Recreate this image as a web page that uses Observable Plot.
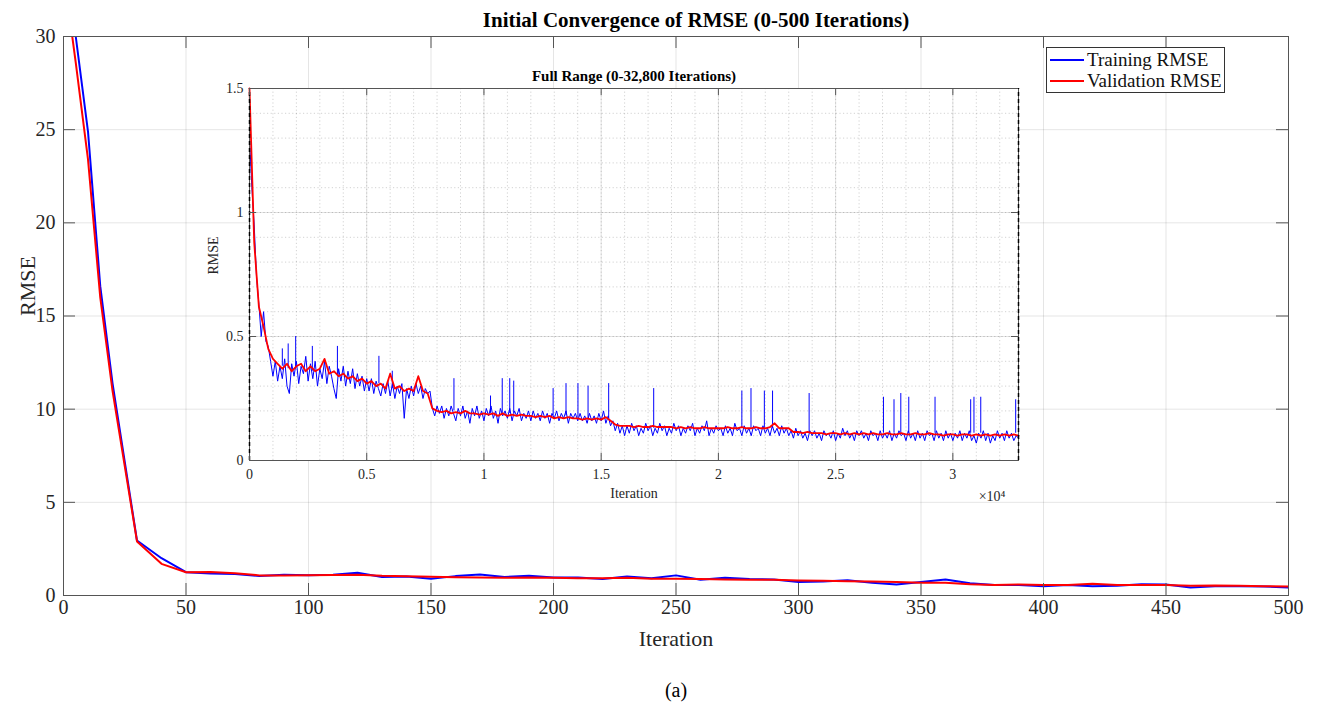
<!DOCTYPE html>
<html><head><meta charset="utf-8">
<script src="https://cdn.jsdelivr.net/npm/d3@7"></script>
<script src="https://cdn.jsdelivr.net/npm/@observablehq/plot@0.6"></script>
<style>
body{margin:0;background:#fff;}
#wrap{position:relative;width:1324px;height:707px;font-family:"Liberation Serif","Times New Roman",serif;}
#inset{position:absolute;left:200px;top:60px;}
#legend{position:absolute;left:1046px;top:47px;width:177px;height:44px;border:1px solid #333;background:#fff;font-size:19px;color:#111;}
#legend .row{position:absolute;left:0;height:22px;width:100%;}
#legend .sw{position:absolute;left:3px;top:10px;width:34px;height:2px;}
#legend .lab{position:absolute;left:40px;top:0;line-height:22px;white-space:nowrap;}
</style></head>
<body><div id="wrap"></div>
<script>
// ---------- Main chart data (0-500 iterations) ----------
const mainIter = [0,5,10,15,20,30,40,50,60,70,80,90,100,110,120,130,140,150,160,170,180,190,200,210,220,230,240,250,260,270,280,290,300,310,320,330,340,350,360,370,380,390,400,410,420,430,440,450,460,470,480,490,500];
const trainMain = [35.5,30.0,24.9,16.6,11.4,2.95,2.0,1.25,1.18,1.16,1.04,1.11,1.09,1.11,1.22,0.99,1.02,0.90,1.04,1.13,0.99,1.06,0.97,0.97,0.88,1.02,0.93,1.08,0.84,0.95,0.88,0.86,0.73,0.75,0.82,0.68,0.59,0.73,0.86,0.66,0.57,0.57,0.50,0.56,0.50,0.52,0.61,0.59,0.43,0.50,0.50,0.48,0.43];
const valMain = [33.5,28.6,23.4,16.0,11.0,2.9,1.7,1.25,1.26,1.20,1.08,1.08,1.09,1.10,1.12,1.06,1.03,1.00,0.98,0.97,0.95,0.97,0.95,0.93,0.93,0.95,0.90,0.90,0.88,0.86,0.84,0.84,0.81,0.79,0.77,0.75,0.72,0.68,0.68,0.61,0.57,0.59,0.57,0.56,0.63,0.57,0.56,0.56,0.52,0.54,0.52,0.50,0.48];
const mainXTicks = [0,50,100,150,200,250,300,350,400,450,500];
const mainYTicks = [0,5,10,15,20,25,30];

// ---------- Inset data (0-32,800 iterations) ----------
const trainStep = 100; // training RMSE sampled every 100 iterations
const trainFull = [
1.30,1.10,0.95,0.74,0.63,0.50,0.60,0.48,0.46,0.40,0.34,0.40,0.32,0.38,0.33,0.41,0.30,0.27,0.39,0.34,
0.40,0.31,0.38,0.35,0.42,0.32,0.39,0.33,0.40,0.30,0.37,0.33,0.40,0.31,0.38,0.34,0.29,0.25,0.37,0.32,
0.38,0.30,0.36,0.31,0.37,0.29,0.35,0.30,0.34,0.28,0.33,0.28,0.33,0.27,0.32,0.29,0.26,0.31,0.27,0.32,
0.26,0.31,0.25,0.30,0.27,0.31,0.17,0.29,0.25,0.30,0.26,0.31,0.27,0.30,0.25,0.29,0.27,0.28,0.21,0.18,
0.22,0.19,0.22,0.17,0.21,0.18,0.22,0.19,0.16,0.21,0.18,0.22,0.17,0.20,0.15,0.21,0.18,0.22,0.17,0.20,
0.16,0.21,0.18,0.22,0.17,0.20,0.15,0.21,0.18,0.20,0.17,0.21,0.16,0.20,0.18,0.21,0.16,0.19,0.17,0.20,
0.16,0.20,0.17,0.19,0.16,0.20,0.17,0.19,0.15,0.19,0.17,0.20,0.16,0.19,0.17,0.20,0.15,0.19,0.17,0.19,
0.16,0.19,0.16,0.18,0.15,0.19,0.16,0.18,0.15,0.19,0.16,0.20,0.15,0.18,0.14,0.16,0.12,0.15,0.11,0.14,
0.10,0.14,0.11,0.15,0.12,0.14,0.10,0.13,0.11,0.15,0.12,0.14,0.10,0.13,0.11,0.15,0.12,0.14,0.10,0.13,
0.11,0.15,0.12,0.14,0.10,0.13,0.11,0.14,0.12,0.15,0.10,0.13,0.11,0.14,0.12,0.16,0.10,0.13,0.11,0.14,
0.12,0.13,0.10,0.14,0.11,0.13,0.10,0.15,0.12,0.13,0.10,0.14,0.11,0.13,0.10,0.14,0.12,0.13,0.10,0.14,
0.11,0.13,0.10,0.14,0.11,0.13,0.10,0.14,0.11,0.13,0.10,0.12,0.09,0.13,0.10,0.12,0.09,0.11,0.08,0.12,
0.10,0.12,0.09,0.11,0.08,0.12,0.10,0.11,0.09,0.12,0.08,0.11,0.09,0.13,0.10,0.12,0.09,0.11,0.08,0.12,
0.10,0.12,0.09,0.11,0.08,0.12,0.10,0.11,0.08,0.12,0.09,0.11,0.09,0.12,0.08,0.11,0.09,0.12,0.10,0.11,
0.08,0.12,0.09,0.11,0.08,0.12,0.09,0.11,0.08,0.12,0.10,0.11,0.08,0.12,0.09,0.11,0.08,0.12,0.09,0.11,
0.08,0.11,0.09,0.12,0.08,0.11,0.09,0.12,0.08,0.10,0.07,0.11,0.09,0.12,0.08,0.11,0.07,0.10,0.08,0.12,
0.09,0.11,0.08,0.12,0.09,0.11,0.08,0.10,0.09];
const valStep = 200; // validation RMSE sampled every 200 iterations
const valFull = [
1.50,0.88,0.62,0.54,0.45,0.41,0.39,0.37,0.39,0.36,
0.38,0.39,0.36,0.38,0.36,0.37,0.41,0.35,0.36,0.34,
0.35,0.33,0.34,0.32,0.33,0.31,0.32,0.30,0.31,0.29,
0.35,0.29,0.30,0.28,0.29,0.28,0.34,0.28,0.27,0.21,
0.20,0.195,0.20,0.19,0.195,0.19,0.20,0.19,0.19,0.185,
0.19,0.185,0.19,0.18,0.19,0.18,0.185,0.18,0.185,0.18,
0.18,0.175,0.18,0.175,0.18,0.17,0.175,0.17,0.175,0.17,
0.17,0.165,0.17,0.165,0.17,0.165,0.175,0.16,0.145,0.14,
0.14,0.14,0.135,0.14,0.135,0.135,0.14,0.135,0.135,0.135,
0.135,0.13,0.135,0.13,0.135,0.13,0.13,0.135,0.13,0.13,
0.13,0.13,0.135,0.13,0.13,0.135,0.13,0.13,0.135,0.13,
0.13,0.135,0.15,0.13,0.13,0.13,0.115,0.115,0.11,0.115,
0.11,0.11,0.11,0.105,0.11,0.11,0.105,0.11,0.105,0.11,
0.105,0.11,0.105,0.11,0.105,0.105,0.11,0.105,0.105,0.11,
0.105,0.105,0.11,0.105,0.105,0.11,0.105,0.105,0.10,0.105,
0.105,0.10,0.105,0.105,0.10,0.105,0.10,0.105,0.10,0.105,
0.10,0.105,0.10,0.105,0.10];
const spikeIter = [1400,1650,1970,2680,3750,5520,6090,8720,10280,10780,11100,11270,12950,13500,14010,14440,15320,17240,21000,21390,21960,22310,23870,27040,27490,27780,28120,29240,30760,30900,31190,32680];
const spikePeak = [0.45,0.47,0.50,0.46,0.46,0.42,0.36,0.33,0.26,0.33,0.33,0.32,0.29,0.31,0.31,0.30,0.31,0.29,0.28,0.29,0.28,0.28,0.27,0.255,0.245,0.27,0.255,0.255,0.245,0.255,0.255,0.245];
const spikeBase = [0.38,0.37,0.37,0.36,0.34,0.31,0.29,0.20,0.19,0.19,0.19,0.19,0.18,0.18,0.17,0.17,0.17,0.13,0.13,0.13,0.13,0.13,0.11,0.11,0.11,0.11,0.11,0.11,0.11,0.11,0.11,0.11];
const insetXMax = 32800;
const insetXTicks = [0,5000,10000,15000,20000,25000,30000];
const insetYTicks = [0,0.5,1,1.5];

const mainTitle = "Initial Convergence of RMSE (0-500 Iterations)";
const insetTitle = "Full Range (0-32,800 Iterations)";
const seriesNames = ["Training RMSE","Validation RMSE"];
const BLUE = "#0000ff", RED = "#ff0000";
const FONT = "'Liberation Serif','Times New Roman',serif";

// ---------- Main plot ----------
const W=1324,H=707,mL=63,mR=36,mT=36,mB=112;
const xLenM = 500/(W-mL-mR)*12, yLenM = 30/(H-mT-mB)*12;
const trainMainData = mainIter.map((it,i)=>({it, v: trainMain[i]}));
const valMainData = mainIter.map((it,i)=>({it, v: valMain[i]}));
const axisC = "#555";

const main = Plot.plot({
  width:W, height:H, marginLeft:mL, marginRight:mR, marginTop:mT, marginBottom:mB,
  style:{fontFamily:FONT, fontSize:"20px", color:"#262626", background:"white"},
  x:{domain:[0,500], ticks:mainXTicks, tickSize:0, tickPadding:4, label:null},
  y:{domain:[0,30], ticks:mainYTicks, tickSize:0, tickPadding:8, label:null},
  marks:[
    Plot.gridX(mainXTicks,{stroke:"#000", strokeOpacity:0.1}),
    Plot.gridY(mainYTicks,{stroke:"#000", strokeOpacity:0.1}),
    Plot.line(trainMainData,{x:"it", y:"v", stroke:BLUE, strokeWidth:2, clip:true}),
    Plot.line(valMainData,{x:"it", y:"v", stroke:RED, strokeWidth:2, clip:true}),
    Plot.frame({stroke:axisC}),
    Plot.ruleX(mainXTicks,{x:d=>d, y1:0, y2:yLenM, stroke:axisC}),
    Plot.ruleX(mainXTicks,{x:d=>d, y1:30, y2:30-yLenM, stroke:axisC}),
    Plot.ruleY(mainYTicks,{y:d=>d, x1:0, x2:xLenM, stroke:axisC}),
    Plot.ruleY(mainYTicks,{y:d=>d, x1:500, x2:500-xLenM, stroke:axisC}),
    Plot.text([mainTitle],{frameAnchor:"top", lineAnchor:"middle", dy:-16, dx:20, fontSize:21, fontWeight:"bold", fill:"#000"}),
    Plot.text(["Iteration"],{frameAnchor:"bottom", lineAnchor:"middle", dy:43, fontSize:22, fill:"#262626"}),
    Plot.text(["RMSE"],{frameAnchor:"left", lineAnchor:"middle", dx:-36, rotate:-90, fontSize:22, fill:"#262626"}),
    Plot.text(["(a)"],{frameAnchor:"bottom", lineAnchor:"middle", dy:95, fontSize:20, fill:"#000"})
  ]
});

// ---------- Inset plot ----------
const iW=840,iH=450,iL=49,iR=22,iT=28,iB=50;
const xLenI = insetXMax/(iW-iL-iR)*7, yLenI = 1.5/(iH-iT-iB)*7;
const trainFullData = trainFull.map((v,i)=>({it:i*trainStep, v}));
const valFullData = valFull.map((v,i)=>({it:i*valStep, v}));
const spikes = spikeIter.map((it,i)=>({it, b:spikeBase[i], p:spikePeak[i]}));
const minorX = d3.range(0, insetXMax+1, 1000);
const minorY = d3.range(1,15).map(k=>k/10);

const inset = Plot.plot({
  width:iW, height:iH, marginLeft:iL, marginRight:iR, marginTop:iT, marginBottom:iB,
  style:{fontFamily:FONT, fontSize:"14px", color:"#262626", background:"transparent", overflow:"visible"},
  x:{domain:[0,insetXMax], ticks:insetXTicks, tickFormat:d=>String(d/1e4), tickSize:0, tickPadding:9, label:null},
  y:{domain:[0,1.5], ticks:insetYTicks, tickFormat:d=>String(d), tickSize:0, tickPadding:6, label:null},
  marks:[
    Plot.frame({fill:"white"}),
    Plot.gridX(minorX,{stroke:"#000", strokeOpacity:0.18, strokeDasharray:"1.2,2.4"}),
    Plot.gridY(minorY,{stroke:"#000", strokeOpacity:0.18, strokeDasharray:"1.2,2.4"}),
    Plot.gridX(insetXTicks,{stroke:"#000", strokeOpacity:0.1}),
    Plot.gridY(insetYTicks,{stroke:"#000", strokeOpacity:0.1}),
    Plot.line(trainFullData,{x:"it", y:"v", stroke:BLUE, strokeWidth:1}),
    Plot.ruleX(spikes,{x:"it", y1:"b", y2:"p", stroke:BLUE, strokeWidth:1}),
    Plot.line(valFullData,{x:"it", y:"v", stroke:RED, strokeWidth:1.8}),
    Plot.frame({stroke:axisC}),
    Plot.ruleX([0, insetXMax],{x:d=>d, y1:0, y2:1.5, stroke:"#000", strokeWidth:1.5, strokeDasharray:"4,3"}),
    Plot.ruleX(insetXTicks,{x:d=>d, y1:0, y2:yLenI, stroke:axisC}),
    Plot.ruleX(insetXTicks,{x:d=>d, y1:1.5, y2:1.5-yLenI, stroke:axisC}),
    Plot.ruleY(insetYTicks,{y:d=>d, x1:0, x2:xLenI, stroke:axisC}),
    Plot.ruleY(insetYTicks,{y:d=>d, x1:insetXMax, x2:insetXMax-xLenI, stroke:axisC}),
    Plot.text([insetTitle],{frameAnchor:"top", lineAnchor:"middle", dy:-12, fontSize:15, fontWeight:"bold", fill:"#000"}),
    Plot.text(["Iteration"],{frameAnchor:"bottom", lineAnchor:"middle", dy:33, fontSize:14, fill:"#262626"}),
    Plot.text(["RMSE"],{frameAnchor:"left", lineAnchor:"middle", dx:-36, rotate:-90, fontSize:14, fill:"#262626"}),
    Plot.text(["\u00d710\u2074"],{frameAnchor:"bottom-right", lineAnchor:"middle", textAnchor:"end", dx:-13, dy:36, fontSize:14, fill:"#262626"})
  ]
});
inset.id = "inset";

const wrap = document.getElementById("wrap");
wrap.appendChild(main);
wrap.appendChild(inset);

// ---------- Legend ----------
const legend = document.createElement("div");
legend.id = "legend";
[[seriesNames[0], BLUE, 1], [seriesNames[1], RED, 22]].forEach(([name, col, top])=>{
  const row = document.createElement("div");
  row.className = "row"; row.style.top = top + "px";
  const sw = document.createElement("div"); sw.className = "sw"; sw.style.background = col;
  const lab = document.createElement("div"); lab.className = "lab"; lab.textContent = name;
  row.appendChild(sw); row.appendChild(lab); legend.appendChild(row);
});
wrap.appendChild(legend);
</script>
</body></html>
